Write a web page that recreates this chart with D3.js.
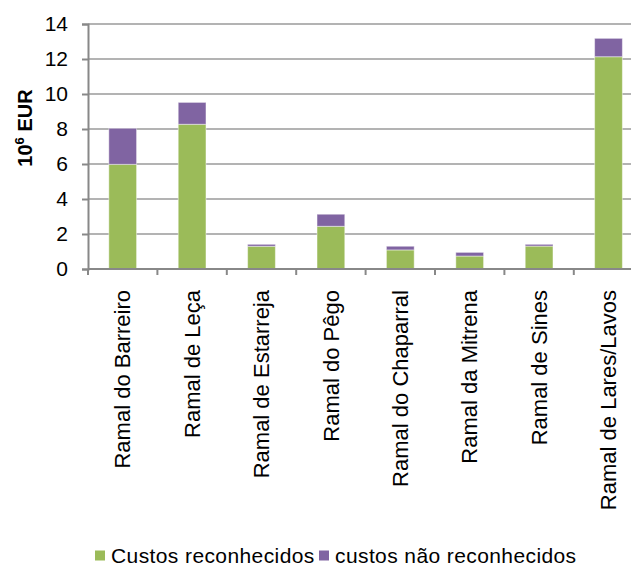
<!DOCTYPE html>
<html>
<head>
<meta charset="utf-8">
<script src="https://cdn.jsdelivr.net/npm/d3@7"></script>
<style>
  html, body { margin: 0; padding: 0; background: #fff; }
  svg { display: block; font-family: "Liberation Sans", Arial, sans-serif; }
</style>
</head>
<body>
<svg id="chart" width="631" height="567"></svg>
<script>
// Gas pipeline branches (ramais) and their costs, in millions of EUR
const categories = [
  "Ramal do Barreiro", "Ramal de Leça", "Ramal de Estarreja", "Ramal do Pêgo",
  "Ramal do Chaparral", "Ramal da Mitrena", "Ramal de Sines", "Ramal de Lares/Lavos"
];
const custosReconhecidos   = [5.98, 8.27, 1.30, 2.44, 1.09, 0.74, 1.31, 12.13];
const custosNaoReconhecidos = [2.06, 1.25, 0.11, 0.69, 0.21, 0.21, 0.10, 1.05];
const seriesNames = ["Custos reconhecidos", "custos não reconhecidos"];
const seriesColors = ["#9BBB59", "#8064A2"];
const yTicks = [0, 2, 4, 6, 8, 10, 12, 14];

const svg = d3.select("#chart");
const plotLeft = 88, plotTop = 24, plotBottom = 269;
const step = 69.4;

const x = d3.scaleBand()
  .domain(categories)
  .range([plotLeft, plotLeft + step * categories.length])
  .paddingInner(0.6)
  .paddingOuter(0.3);

const y = d3.scaleLinear().domain([0, 14]).range([plotBottom, plotTop]);

// horizontal gridlines
svg.append("g")
  .selectAll("line")
  .data(yTicks.filter(d => d > 0))
  .join("line")
  .attr("x1", plotLeft).attr("x2", x.range()[1])
  .attr("y1", d => y(d)).attr("y2", d => y(d))
  .attr("stroke", "#9a9a9a")
  .attr("stroke-width", 1.6);

// stacked bars
const rows = categories.map((c, i) => ({
  cat: c, a: custosReconhecidos[i], b: custosNaoReconhecidos[i]
}));
const stack = d3.stack().keys(["a", "b"])(rows);

svg.append("g")
  .selectAll("g")
  .data(stack)
  .join("g")
  .attr("fill", (d, i) => seriesColors[i])
  .selectAll("rect")
  .data(d => d)
  .join("rect")
  .attr("x", d => x(d.data.cat))
  .attr("width", x.bandwidth())
  .attr("y", d => y(d[1]))
  .attr("height", d => y(d[0]) - y(d[1]))
  .attr("stroke", "rgba(255,255,255,0.45)")
  .attr("stroke-width", 1);

// y axis
const yAxis = svg.append("g").attr("transform", `translate(${plotLeft},0)`)
  .call(d3.axisLeft(y).tickValues(yTicks).tickSize(6).tickPadding(14).tickFormat(d3.format("d")));
yAxis.select(".domain").attr("stroke", "#888").attr("stroke-width", 2);
yAxis.selectAll(".tick line").attr("stroke", "#888").attr("stroke-width", 2);
yAxis.selectAll(".tick text")
  .attr("font-size", 21)
  .attr("fill", "#000")
  .attr("font-family", "Liberation Sans, Arial, sans-serif");

// x axis baseline and tick marks between categories
const xg = svg.append("g");
xg.append("line")
  .attr("x1", plotLeft).attr("x2", x.range()[1])
  .attr("y1", plotBottom).attr("y2", plotBottom)
  .attr("stroke", "#888").attr("stroke-width", 2.2);
const boundaries = categories.map(c => x(c) - (x.step() - x.bandwidth()) / 2);
boundaries.push(x.range()[1]);
xg.selectAll("line.tk")
  .data(boundaries)
  .join("line")
  .attr("class", "tk")
  .attr("x1", d => d).attr("x2", d => d)
  .attr("y1", plotBottom).attr("y2", plotBottom + 6)
  .attr("stroke", "#888").attr("stroke-width", 2);

// rotated category labels
xg.selectAll("text")
  .data(categories)
  .join("text")
  .attr("transform", d => `translate(${x(d) + x.bandwidth() / 2},290) rotate(-90)`)
  .attr("text-anchor", "end")
  .attr("dy", "0.35em")
  .attr("font-size", 22)
  .attr("fill", "#000")
  .text(d => d);

// y axis title
const yTitle = svg.append("text")
  .attr("transform", "translate(32,128) rotate(-90)")
  .attr("text-anchor", "middle")
  .attr("font-size", 20)
  .attr("font-weight", "bold")
  .attr("fill", "#000");
yTitle.append("tspan").text("10");
yTitle.append("tspan").attr("dy", -8).attr("font-size", 13).text("6");
yTitle.append("tspan").attr("dy", 8).text(" EUR");

// legend
const legendItems = [
  { name: seriesNames[0], color: seriesColors[0], x: 95 },
  { name: seriesNames[1], color: seriesColors[1], x: 319 }
];
const lg = svg.append("g");
lg.selectAll("rect")
  .data(legendItems)
  .join("rect")
  .attr("x", d => d.x).attr("y", 550.5)
  .attr("width", 10).attr("height", 10)
  .attr("fill", d => d.color);
lg.selectAll("text")
  .data(legendItems)
  .join("text")
  .attr("x", d => d.x + 16).attr("y", 563)
  .attr("font-size", 21)
  .attr("letter-spacing", 0.4)
  .attr("fill", "#000")
  .text(d => d.name);
</script>
</body>
</html>
